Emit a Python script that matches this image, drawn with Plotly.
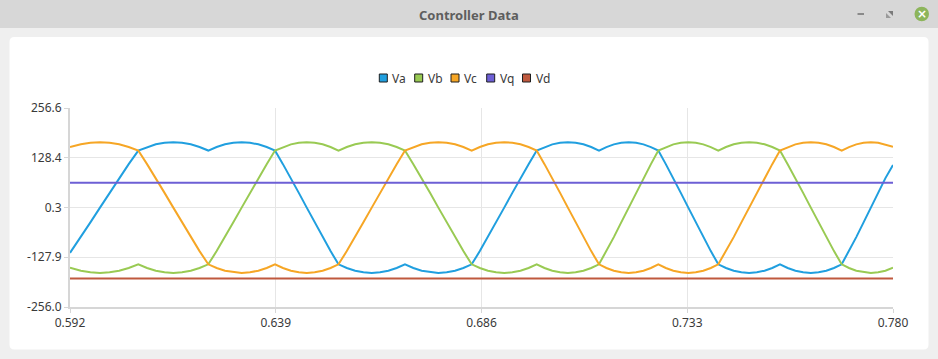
import plotly.graph_objects as go

# ---------------- data ----------------
T = [0.59200,
     0.59448, 0.59666, 0.59885, 0.60104, 0.60323, 0.60541, 0.60760,
     0.60960, 0.61160, 0.61360, 0.61560, 0.61759, 0.61959, 0.62159, 0.62359,
     0.62550, 0.62740, 0.62931, 0.63121, 0.63312, 0.63502, 0.63693, 0.63883,
     0.64064, 0.64246, 0.64427, 0.64608, 0.64789, 0.64971, 0.65152, 0.65333,
     0.65523, 0.65713, 0.65903, 0.66093, 0.66282, 0.66472, 0.66662, 0.66852,
     0.67043, 0.67233, 0.67424, 0.67614, 0.67805, 0.67995, 0.68186, 0.68376,
     0.68562, 0.68747, 0.68933, 0.69119, 0.69304, 0.69490, 0.69676, 0.69861,
     0.70039, 0.70217, 0.70395, 0.70573, 0.70750, 0.70928, 0.71106, 0.71284,
     0.71453, 0.71623, 0.71792, 0.71962, 0.72131, 0.72300, 0.72470, 0.72639,
     0.72810, 0.72982, 0.73153, 0.73324, 0.73495, 0.73667, 0.73838, 0.74009,
     0.74185, 0.74361, 0.74537, 0.74714, 0.74890, 0.75066, 0.75242, 0.75418,
     0.75594, 0.75771, 0.75947, 0.76123, 0.76299, 0.76476, 0.76652, 0.76828,
     0.76995, 0.77161, 0.77328, 0.77494, 0.77661, 0.77827, 0.78000]

VA = [-116.5,
      -76, -38, 0, 38, 76, 112, 147,
      156, 163, 167, 168.5, 167, 163, 156, 147,
      156, 163, 167, 168.5, 167, 163, 156, 147,
      112, 76, 38, 0, -38, -76, -112, -146,
      -155.5, -162.5, -166.5, -168.5, -166.5, -162.5, -155.5, -146,
      -155.5, -162.5, -166.5, -168.5, -166.5, -162.5, -155.5, -146,
      -112, -76, -38, 0, 38, 76, 112, 147,
      156, 163, 167, 168.5, 167, 163, 156, 147,
      156, 163, 167, 168.5, 167, 163, 156, 147,
      112, 76, 38, 0, -38, -76, -112, -146,
      -155.5, -162.5, -166.5, -168.5, -166.5, -162.5, -155.5, -146,
      -155.5, -162.5, -166.5, -168.5, -166.5, -162.5, -155.5, -146,
      -112, -76, -38, 0, 38, 76, 110]

VB = [-154.5,
      -162.5, -166.5, -168.5, -166.5, -162.5, -155.5, -146,
      -155.5, -162.5, -166.5, -168.5, -166.5, -162.5, -155.5, -146,
      -112, -76, -38, 0, 38, 76, 112, 147,
      156, 163, 167, 168.5, 167, 163, 156, 147,
      156, 163, 167, 168.5, 167, 163, 156, 147,
      112, 76, 38, 0, -38, -76, -112, -146,
      -155.5, -162.5, -166.5, -168.5, -166.5, -162.5, -155.5, -146,
      -155.5, -162.5, -166.5, -168.5, -166.5, -162.5, -155.5, -146,
      -112, -76, -38, 0, 38, 76, 112, 147,
      156, 163, 167, 168.5, 167, 163, 156, 147,
      156, 163, 167, 168.5, 167, 163, 156, 147,
      112, 76, 38, 0, -38, -76, -112, -146,
      -155.5, -162.5, -166.5, -168.5, -166.5, -162.5, -155]

VC = [156,
      163, 167, 168.5, 167, 163, 156, 147,
      112, 76, 38, 0, -38, -76, -112, -146,
      -155.5, -162.5, -166.5, -168.5, -166.5, -162.5, -155.5, -146,
      -155.5, -162.5, -166.5, -168.5, -166.5, -162.5, -155.5, -146,
      -112, -76, -38, 0, 38, 76, 112, 147,
      156, 163, 167, 168.5, 167, 163, 156, 147,
      156, 163, 167, 168.5, 167, 163, 156, 147,
      112, 76, 38, 0, -38, -76, -112, -146,
      -155.5, -162.5, -166.5, -168.5, -166.5, -162.5, -155.5, -146,
      -155.5, -162.5, -166.5, -168.5, -166.5, -162.5, -155.5, -146,
      -112, -76, -38, 0, 38, 76, 112, 147,
      156, 163, 167, 168.5, 167, 163, 156, 147,
      156, 163, 167, 168.5, 167, 163, 157]

T_CONST = [0.592, 0.780]
VQ = [63.8, 63.8]
VD = [-182.5, -182.5]

SERIES_NAMES = ["Va", "Vb", "Vc", "Vq", "Vd"]
SERIES_COLORS = ["#209fdf", "#99ca53", "#f6a625", "#6d5fd5", "#bf593e"]

X_TICKS = [0.592, 0.639, 0.686, 0.733, 0.780]
X_TICK_LABELS = ["0.592", "0.639", "0.686", "0.733", "0.780"]
Y_TICKS = [-256.0, -127.85, 0.3, 128.45, 256.6]
Y_TICK_LABELS = ["-256.0", "-127.9", "0.3", "128.4", "256.6"]

WINDOW_TITLE = "Controller Data"

# ---------------- layout geometry (pixels) ----------------
W, H = 938, 359
ML, MR, MT, MB = 70, 45, 108, 52
PW, PH = W - ML - MR, H - MT - MB


def px(x):
    return (x - ML) / PW


def py(y):
    return (H - MB - y) / PH


fig = go.Figure()
ys = [VA, VB, VC, VQ, VD]
xs = [T, T, T, T_CONST, T_CONST]
for name, col, x, y in zip(SERIES_NAMES, SERIES_COLORS, xs, ys):
    fig.add_trace(go.Scatter(x=x, y=y, mode="lines", name=name,
                             line=dict(color=col, width=2),
                             showlegend=False, hoverinfo="skip"))

shapes = []
annotations = []

# title bar
shapes.append(dict(type="rect", xref="paper", yref="paper", layer="below",
                   x0=px(0), x1=px(W), y0=py(0), y1=py(28),
                   fillcolor="#d7d7d7", line=dict(width=0)))
# white rounded panel
r = 5
x0p, x1p, y0p, y1p = 9.5, 928.5, 37, 349.5
path = (f"M {px(x0p + r)},{py(y0p)} L {px(x1p - r)},{py(y0p)} "
        f"Q {px(x1p)},{py(y0p)} {px(x1p)},{py(y0p + r)} "
        f"L {px(x1p)},{py(y1p - r)} Q {px(x1p)},{py(y1p)} {px(x1p - r)},{py(y1p)} "
        f"L {px(x0p + r)},{py(y1p)} Q {px(x0p)},{py(y1p)} {px(x0p)},{py(y1p - r)} "
        f"L {px(x0p)},{py(y0p + r)} Q {px(x0p)},{py(y0p)} {px(x0p + r)},{py(y0p)} Z")
shapes.append(dict(type="path", xref="paper", yref="paper", layer="below",
                   path=path, fillcolor="#ffffff", line=dict(width=0)))

# window title
annotations.append(dict(text=f"<b>{WINDOW_TITLE}</b>", x=px(469), y=py(15),
                        xref="paper", yref="paper", showarrow=False,
                        xanchor="center", yanchor="middle",
                        font=dict(family="Noto Sans", size=13, color="#5e5e5e")))
# minimize
shapes.append(dict(type="line", xref="paper", yref="paper",
                   x0=px(857.5), x1=px(864), y0=py(14), y1=py(14),
                   line=dict(color="#8a8a8a", width=2)))
# restore icon (two small triangles)
shapes.append(dict(type="path", xref="paper", yref="paper",
                   path=f"M {px(888)},{py(11)} L {px(893)},{py(11)} L {px(893)},{py(16)} Z",
                   fillcolor="#7a7a7a", line=dict(width=0)))
shapes.append(dict(type="path", xref="paper", yref="paper",
                   path=f"M {px(886)},{py(13)} L {px(886)},{py(18)} L {px(891)},{py(18)} Z",
                   fillcolor="#9a9a9a", line=dict(width=0)))
# close button
shapes.append(dict(type="circle", xref="paper", yref="paper",
                   x0=px(914.5), x1=px(929), y0=py(6.7), y1=py(21.3),
                   fillcolor="#8db55b", line=dict(width=0)))
annotations.append(dict(text="<b>×</b>", x=px(921.8), y=py(14), xref="paper",
                        yref="paper", showarrow=False, xanchor="center",
                        yanchor="middle",
                        font=dict(family="DejaVu Sans", size=12, color="#ffffff")))

# custom legend
sq_centers = [383.3, 418.7, 455.0, 490.7, 526.5]
txt_left = [392.3, 428.3, 464.3, 500.0, 535.7]
for name, col, cx, tx in zip(SERIES_NAMES, SERIES_COLORS, sq_centers, txt_left):
    shapes.append(dict(type="rect", xref="paper", yref="paper",
                       x0=px(cx - 4), x1=px(cx + 4), y0=py(74), y1=py(82),
                       fillcolor=col, line=dict(color="#1e1e1e", width=1)))
    annotations.append(dict(text=name, x=px(tx - 2), y=py(78.5), xref="paper",
                            yref="paper", showarrow=False, xanchor="left",
                            yanchor="middle",
                            font=dict(family="Noto Sans", size=12, color="#3a3a3a")))

fig.update_layout(
    width=W, height=H,
    margin=dict(l=ML, r=MR, t=MT, b=MB, pad=0),
    paper_bgcolor="#efefef",
    plot_bgcolor="#ffffff",
    showlegend=False,
    shapes=shapes,
    annotations=annotations,
    font=dict(family="Noto Sans", size=12, color="#3a3a3a"),
)
fig.update_xaxes(range=[X_TICKS[0], X_TICKS[-1]], tickmode="array",
                 tickvals=X_TICKS, ticktext=X_TICK_LABELS,
                 showgrid=True, gridcolor="#e6e6e6", gridwidth=1,
                 showline=True, linecolor="#d6d6d6", linewidth=2,
                 ticks="outside", ticklen=4, tickcolor="#d6d6d6",
                 zeroline=False, fixedrange=True)
fig.update_yaxes(range=[Y_TICKS[0], Y_TICKS[-1]], tickmode="array",
                 tickvals=Y_TICKS, ticktext=Y_TICK_LABELS,
                 showgrid=True, gridcolor="#e6e6e6", gridwidth=1,
                 showline=True, linecolor="#d6d6d6", linewidth=2,
                 ticks="outside", ticklen=4, tickcolor="#d6d6d6",
                 zeroline=False, fixedrange=True)

fig.write_html("out.html", config={"displayModeBar": False},
               post_script="document.body.style.margin='0';document.body.style.overflow='hidden';")
